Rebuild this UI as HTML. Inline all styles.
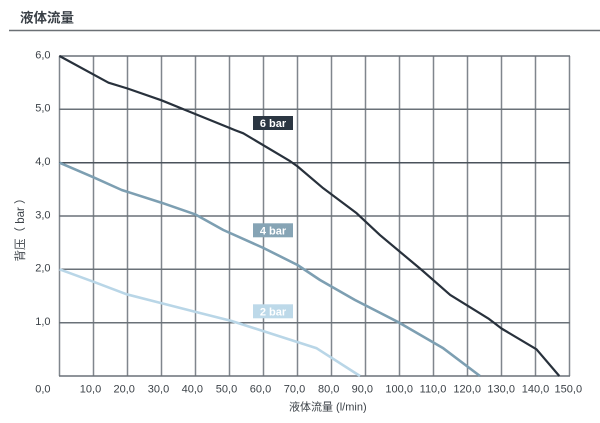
<!DOCTYPE html>
<html><head><meta charset="utf-8"><style>
html,body{margin:0;padding:0;background:#fff;}
svg{display:block;}
text{font-family:"Liberation Sans","Noto Sans CJK SC",sans-serif;}
</style></head><body>
<svg width="600" height="423" viewBox="0 0 600 423" xmlns="http://www.w3.org/2000/svg">
<text x="20" y="22.5" font-size="13.5" font-weight="bold" fill="#3a4047">液体流量</text>
<line x1="9" y1="30.5" x2="600" y2="30.5" stroke="#6b7075" stroke-width="1.5"/>
<g stroke="#80868d" stroke-width="1.5">
<line x1="59.5" y1="56" x2="59.5" y2="376"/><line x1="93.5" y1="56" x2="93.5" y2="376"/><line x1="127.5" y1="56" x2="127.5" y2="376"/><line x1="161.5" y1="56" x2="161.5" y2="376"/><line x1="195.5" y1="56" x2="195.5" y2="376"/><line x1="229.5" y1="56" x2="229.5" y2="376"/><line x1="263.5" y1="56" x2="263.5" y2="376"/><line x1="297.5" y1="56" x2="297.5" y2="376"/><line x1="331.5" y1="56" x2="331.5" y2="376"/><line x1="365.5" y1="56" x2="365.5" y2="376"/><line x1="399.5" y1="56" x2="399.5" y2="376"/><line x1="433.5" y1="56" x2="433.5" y2="376"/><line x1="467.5" y1="56" x2="467.5" y2="376"/><line x1="501.5" y1="56" x2="501.5" y2="376"/><line x1="535.5" y1="56" x2="535.5" y2="376"/><line x1="569.5" y1="56" x2="569.5" y2="376"/>
</g>
<g stroke="#6a7178" stroke-width="1.5">
<line x1="59" y1="56" x2="570" y2="56"/><line x1="59" y1="109.3" x2="570" y2="109.3"/><line x1="59" y1="162.7" x2="570" y2="162.7" stroke="#4a525b"/><line x1="59" y1="216" x2="570" y2="216"/><line x1="59" y1="269.3" x2="570" y2="269.3"/><line x1="59" y1="322.7" x2="570" y2="322.7"/><line x1="59" y1="376" x2="570" y2="376"/>
</g>
<g fill="none" stroke-linejoin="round" stroke-linecap="butt">
<polyline stroke="#b9d6e7" stroke-width="2.6" points="59.5,269.3 93.3,281.7 126.7,294.3 161.7,303.3 195,311.7 231.7,321 316.7,348.3 360,376"/>
<polyline stroke="#7d9fb2" stroke-width="2.6" points="59.5,162.7 93.5,177.3 121.7,190 161.5,202.7 195,214.3 223.3,230 263.5,248 297.5,265 320,280 355,300 399.3,322.7 443.3,348.3 480,376"/>
<polyline stroke="#28313c" stroke-width="2.2" points="59.5,56 108.5,82.7 127.5,88.5 161.5,100.3 195.5,114.1 234.9,130.1 243.3,133.3 290,161.1 297.5,166.4 323.3,188.3 356.7,213.3 380.1,235.2 421.6,269.9 450.2,294.9 488.2,318.4 501.5,328.5 536.5,349.3 559.3,376"/>
</g>
<rect x="253" y="116" width="40" height="14" fill="#2b3642"/>
<text x="273" y="127" font-size="11" font-weight="bold" fill="#fff" text-anchor="middle">6 bar</text>
<rect x="253" y="223.3" width="40" height="14" fill="#86a4b5"/>
<text x="273" y="234.3" font-size="11" font-weight="bold" fill="#fff" text-anchor="middle">4 bar</text>
<rect x="253" y="304.3" width="40" height="14" fill="#bdd9e9"/>
<text x="273" y="315.3" font-size="11" font-weight="bold" fill="#fff" text-anchor="middle">2 bar</text>
<g font-size="11" fill="#3c4248" text-anchor="end">
<text x="50.5" y="58.3">6,0</text><text x="50.5" y="111.6">5,0</text><text x="50.5" y="165">4,0</text><text x="50.5" y="218.3">3,0</text><text x="50.5" y="271.6">2,0</text><text x="50.5" y="325">1,0</text><text x="50.5" y="392.3">0,0</text>
</g>
<g font-size="11" fill="#3c4248" text-anchor="middle">
<text x="90.5" y="392.3">10,0</text><text x="124.2" y="392.3">20,0</text><text x="158.5" y="392.3">30,0</text><text x="192.3" y="392.3">40,0</text><text x="226.5" y="392.3">50,0</text><text x="260.5" y="392.3">60,0</text><text x="294.5" y="392.3">70,0</text><text x="328.7" y="392.3">80,0</text><text x="362.3" y="392.3">90,0</text><text x="399.2" y="392.3">100,0</text><text x="433" y="392.3">110,0</text><text x="467.2" y="392.3">120,0</text><text x="501.2" y="392.3">130,0</text><text x="535.5" y="392.3">140,0</text><text x="568.3" y="392.3">150,0</text>
</g>
<text x="289" y="410.5" font-size="11" fill="#3c4248">液体流量 (l/min)</text>
<text transform="translate(24,227) rotate(-90)" font-size="11.5" fill="#3c4248" text-anchor="middle">背压（ bar ）</text>
</svg>
</body></html>
